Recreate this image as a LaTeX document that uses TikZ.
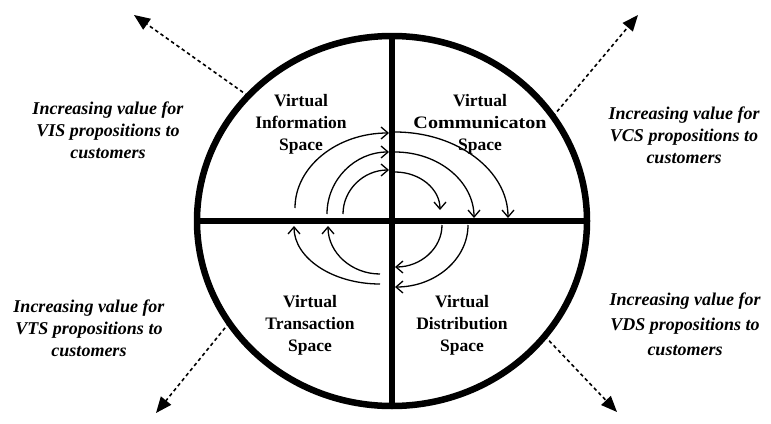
\documentclass[tikz,border=0pt]{standalone}
\usepackage{fontspec}
\setmainfont{Liberation Serif}
\usetikzlibrary{arrows.meta,shapes.geometric}
\begin{document}
\begin{tikzpicture}[x=1pt,y=-1pt,
  sidetext/.style={font=\fontsize{18}{22}\selectfont\bfseries\itshape, align=center, inner sep=0pt},
  quadtext/.style={font=\fontsize{17.5}{22}\selectfont\bfseries, align=center, inner sep=0pt},
  frame/.style={line width=6.5pt},
  flow/.style={line width=1.3pt, -{Straight Barb[length=7pt,width=12pt]}},
  valuearrow/.style={line width=1.6pt, dash pattern=on 3.5pt off 3pt, -{Triangle[length=16pt,width=13pt]}}]
\useasboundingbox (0,0) rectangle (771,423);

% outer disk and cross
\node[draw, ellipse, line width=6.5pt, minimum width=390pt, minimum height=370pt,
      inner sep=0pt, outer sep=0pt] (disk) at (392,221) {};
\draw[frame] (disk.north) -- (disk.south);
\draw[frame] (disk.west) -- (disk.east);

% quadrant labels
\node[quadtext] (vis) at (301,124) {Virtual\\Information\\Space};
\node[quadtext] (vcs) at (480,124) {Virtual\\\scalebox{1.15}[1]{Communicaton}\\Space};
\node[quadtext] (vts) at (310,325) {Virtual\\Transaction\\Space};
\node[quadtext] (vds) at (462,325) {Virtual\\Distribution\\Space};

% side labels
\node[sidetext] (tl) at (108,130) {Increasing value for\\VIS propositions to\\customers};
\node[sidetext] (tr) at (684,135) {Increasing value for\\VCS propositions to\\customers};
\node[sidetext] (bl) at (89,328) {Increasing value  for\\VTS propositions to\\customers};
\node[sidetext, font=\fontsize{18}{25}\selectfont\bfseries\itshape] (br) at (685,324) {Increasing value for\\VDS propositions to\\customers};

% dashed value arrows
\coordinate (tltip) at (134,15);
\coordinate (trtip) at (638,15);
\coordinate (bltip) at (156,413);
\coordinate (brtip) at (617,412);
\draw[valuearrow] (disk.139) -- (tltip);
\draw[valuearrow] (disk.33) -- (trtip);
\draw[valuearrow] (disk.212) -- (bltip);
\draw[valuearrow] (disk.323) -- (brtip);

% flow arcs: upper right
\draw[flow] (395,132) arc[start angle=-90, end angle=0, x radius=113, y radius=86];
\draw[flow] (395,152) arc[start angle=-90, end angle=0, x radius=79, y radius=66];
\draw[flow] (395,172) arc[start angle=-90, end angle=0, x radius=45, y radius=38];
% upper left
\draw[flow] (295,208) arc[start angle=180, end angle=270, x radius=94, y radius=75];
\draw[flow] (327,214) arc[start angle=180, end angle=270, x radius=62, y radius=62];
\draw[flow] (343,214) arc[start angle=180, end angle=270, x radius=46, y radius=44];
% lower right
\draw[flow] (442,225) arc[start angle=0, end angle=90, x radius=47, y radius=42];
\draw[flow] (468,225) arc[start angle=0, end angle=90, x radius=73, y radius=62];
% lower left
\draw[flow] (380,274) arc[start angle=90, end angle=180, x radius=52, y radius=48];
\draw[flow] (380,284) arc[start angle=90, end angle=180, x radius=86, y radius=58];
\end{tikzpicture}
\end{document}
